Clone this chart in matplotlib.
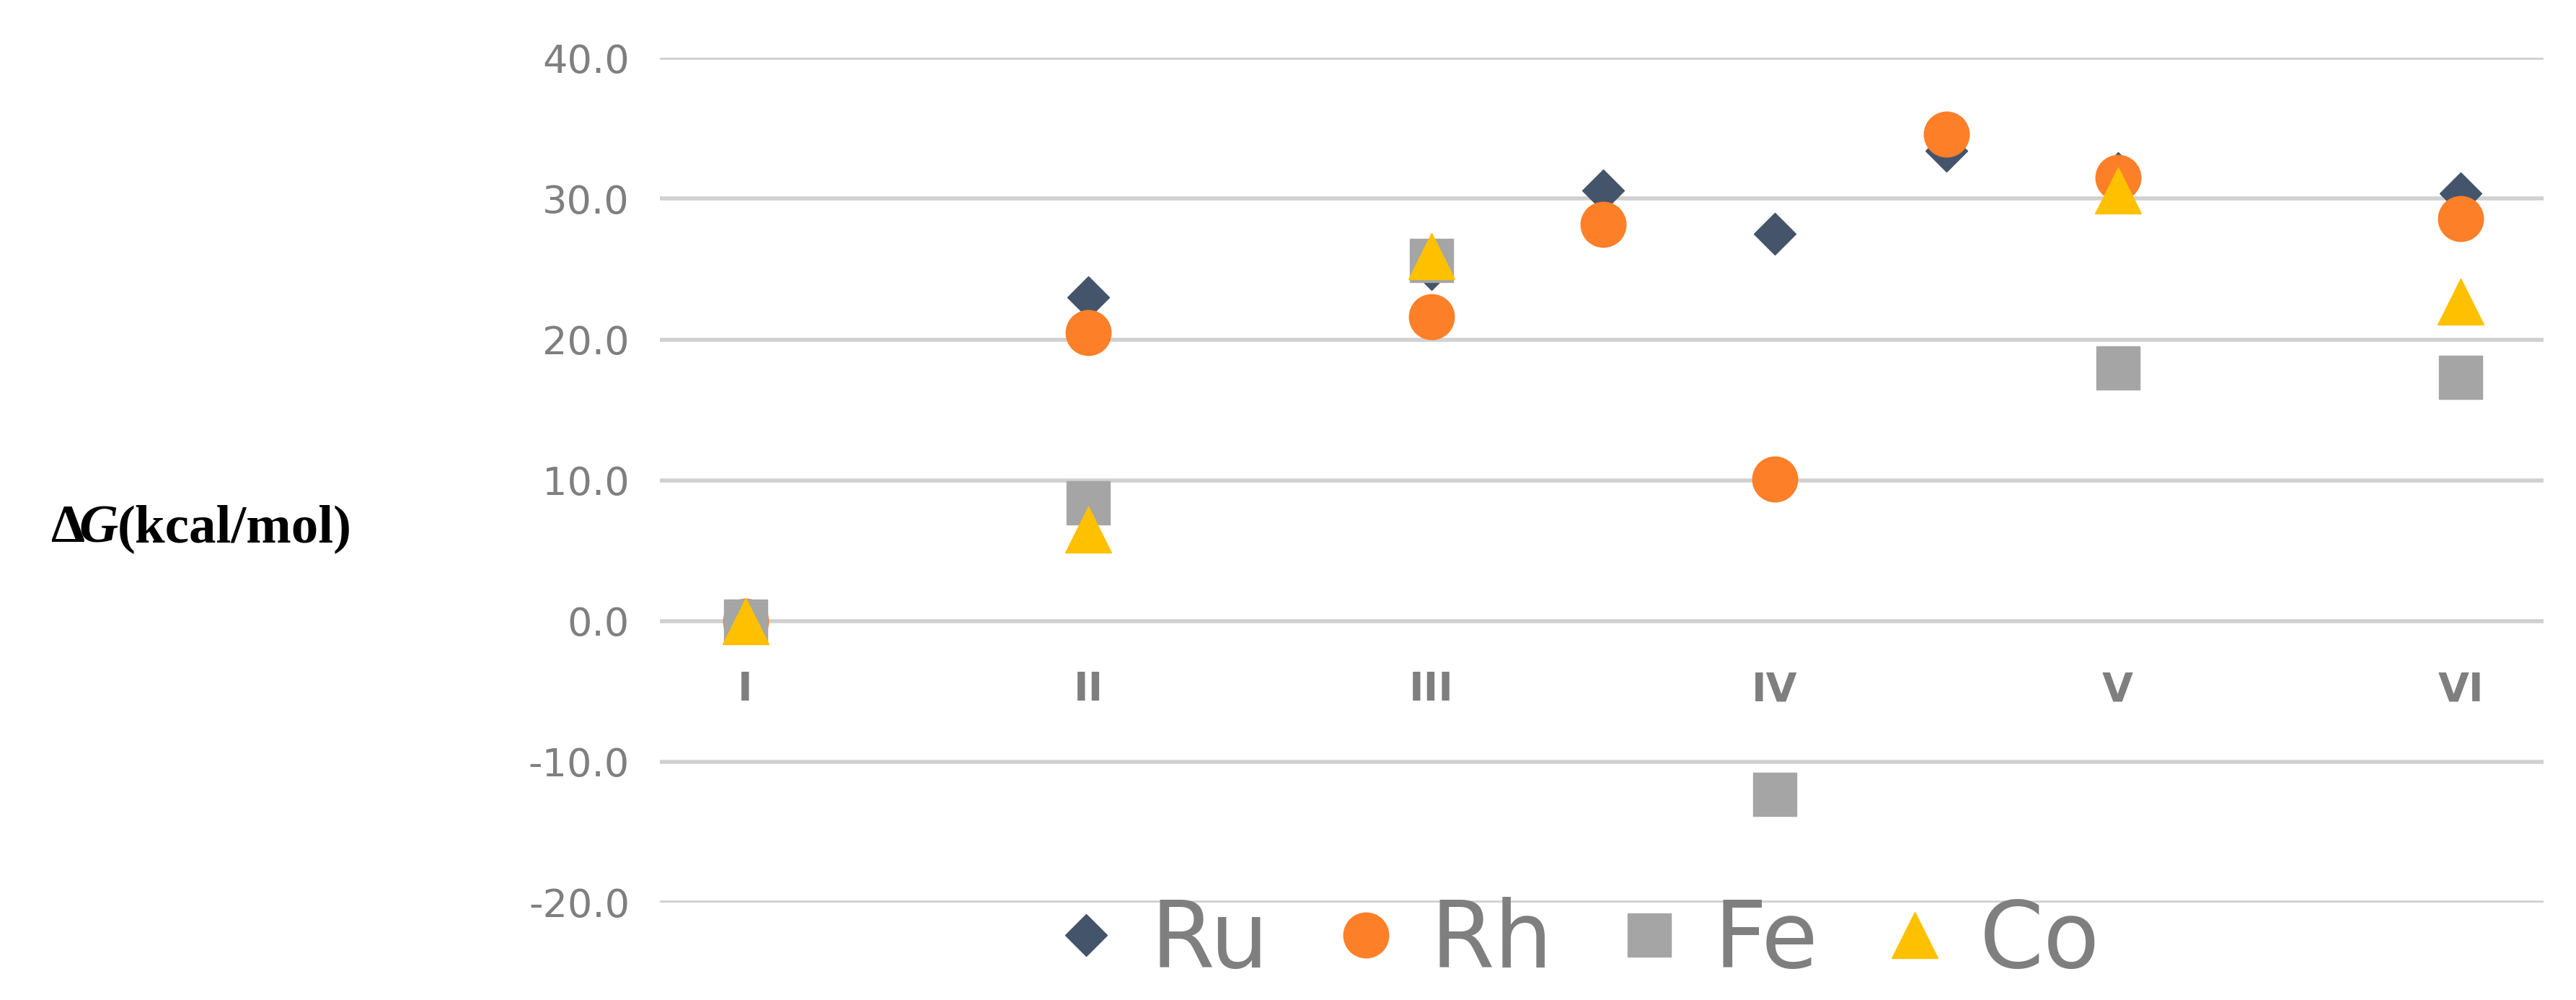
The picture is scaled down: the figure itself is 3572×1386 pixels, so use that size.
import matplotlib
matplotlib.use("Agg")
import matplotlib.pyplot as plt

cat_labels = ["I", "II", "III", "IV", "V", "VI"]
cat_pos = [1, 2, 3, 4, 5, 6]

ru_x = [1, 2, 3, 3.5, 4, 4.5, 5, 6]
ru_y = [0.0, 23.0, 25.0, 30.6, 27.5, 33.4, 31.8, 30.4]
rh_x = [1, 2, 3, 3.5, 4, 4.5, 5, 6]
rh_y = [0.0, 20.5, 21.6, 28.2, 10.1, 34.6, 31.5, 28.6]
fe_x = [1, 2, 3, 4, 5, 6]
fe_y = [0.0, 8.4, 25.6, -12.3, 18.0, 17.3]
co_x = [1, 2, 3, 5, 6]
co_y = [0.0, 6.5, 25.9, 30.6, 22.7]

fig = plt.figure(figsize=(35.73, 13.86), dpi=100)
ax = fig.add_axes([0.256, 0.0975, 0.731, 0.8445])
ax.set_xlim(0.75, 6.24)
ax.set_ylim(-20, 40)
ax.set_yticks([-20, -10, 0, 10, 20, 30, 40])
ax.set_yticklabels([f"{v:.1f}" for v in [-20, -10, 0, 10, 20, 30, 40]])
ax.tick_params(axis='y', length=0, labelsize=39, labelcolor="#7f7f7f", pad=30)
ax.set_xticks([])
for s in ax.spines.values():
    s.set_visible(False)
ax.grid(axis='y', color="#d0d0d0", lw=4)
ax.set_axisbelow(True)
for p, l in zip(cat_pos, cat_labels):
    ax.text(p, -4.9, l, ha='center', va='center', fontsize=40, color="#7f7f7f",
            fontweight='bold')

ax.plot(ru_x, ru_y, 'D', ms=30, color="#44546a", ls='none', label="Ru", zorder=3)
ax.plot(rh_x, rh_y, 'o', ms=45, color="#fd7f28", ls='none', label="Rh", zorder=3)
ax.plot(fe_x, fe_y, 's', ms=43, color="#a5a5a5", ls='none', label="Fe", zorder=3)
ax.plot(co_x, co_y, '^', ms=46, color="#ffc000", ls='none', label="Co", zorder=3)

fig.legend(loc='center', bbox_to_anchor=(0.612, 0.058), ncol=4, frameon=False,
           prop={'size': 92}, labelcolor="#7f7f7f", handletextpad=0.35,
           handlelength=0.7, columnspacing=0.7, markerscale=1.0)

yy = 0.471
fs = 54
fig.text(0.020, yy, "Δ", fontsize=fs, fontweight='bold', family="Liberation Serif", va='center')
fig.text(0.0305, yy, "G", fontsize=fs, fontweight='bold', fontstyle='italic', family="Liberation Serif", va='center')
fig.text(0.0455, yy, "(kcal/mol)", fontsize=fs, fontweight='bold', family="Liberation Serif", va='center')

fig.savefig("out.png", dpi=100)
